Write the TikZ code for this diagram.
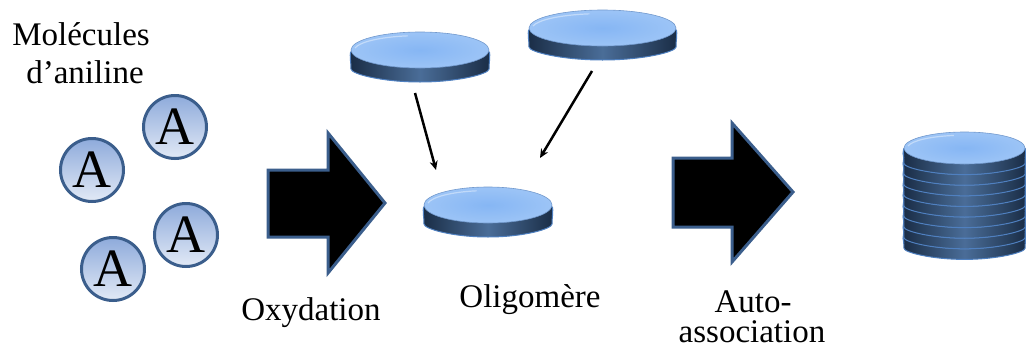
\documentclass[tikz,border=0pt]{standalone}
\usepackage{fontspec}
\setmainfont{Liberation Serif}
\usetikzlibrary{arrows.meta}
\definecolor{rimblue}{HTML}{3B5E8C}
\definecolor{ballTop}{HTML}{8EAADB}
\definecolor{ballBot}{HTML}{E2EAF6}
\definecolor{diskTop}{HTML}{86B6F4}
\definecolor{diskTopHi}{HTML}{9CC4F6}
\definecolor{sideDark}{HTML}{1A2D46}
\definecolor{sideMid}{HTML}{4A6D98}
\definecolor{diskEdge}{HTML}{4F80C0}
\tikzset{
  lbl/.style={font=\fontsize{33}{38}\selectfont, inner sep=0pt, anchor=base},
  ball/.style={circle, minimum size=63pt, inner sep=0pt, draw=rimblue, line width=3pt,
    top color=ballTop, bottom color=ballBot, font=\fontsize{54}{54}\selectfont},
  bigarrow/.style={fill=black, draw=rimblue, line width=3pt, line join=miter},
  thinarrow/.style={line width=2.5pt, -{Stealth[length=9pt,width=8pt]}},
  side/.style={left color=sideDark, right color=sideDark, middle color=sideMid, draw=diskEdge, line width=1pt, rounded corners=5pt},
  topface/.style={inner color=diskTop, outer color=diskTopHi, draw=diskEdge!80!white, line width=0.6pt},
}
% \diskat{cx}{top centre y}{rx}{ry}{thickness}
\newcommand{\diskat}[5]{%
  \path[side] (#1-#3+1,#2-2) -- (#1-#3,#2+#5*0.5) -- (#1-#3+1,#2+#5) arc[start angle=180, end angle=0, x radius=#3-1, y radius=#4] -- (#1+#3,#2+#5*0.5) -- (#1+#3-1,#2-2) -- cycle;
  \path[topface] (#1,#2) ellipse[x radius=#3-1, y radius=#4];
  \draw[white, opacity=0.4, line width=1.2pt] (#1-#3+5,#2-2) arc[start angle=190, end angle=260, x radius=#3-5, y radius=#4-3];
}
\begin{document}
\begin{tikzpicture}[x=1pt, y=-1pt]
\useasboundingbox (0,0) rectangle (1026,351);
% labels
\node[lbl] (mol) at (81,45) {Molécules};
\node[lbl] (ani) at (85,83) {d’aniline};
\node[lbl] (oxy) at (311,320) {Oxydation};
\node[lbl] (oli) at (530,307) {Oligomère};
\node[lbl] (aut) at (753,312) {Auto-};
\node[lbl] (ass) at (752,342) {association};
% aniline molecules
\node[ball] (b1) at (175,127) {A};
\node[ball] (b2) at (92,170) {A};
\node[ball] (b3) at (186,235) {A};
\node[ball] (b4) at (113,269) {A};
% big arrows
\draw[bigarrow] (268,170) -- (328,170) -- (328,133) -- (385,203) -- (328,273) -- (328,237) -- (268,237) -- cycle;
\draw[bigarrow] (673,158) -- (732,158) -- (732,123) -- (793,192) -- (732,262) -- (732,227) -- (673,227) -- cycle;
% disks
\diskat{420}{50}{70}{18}{14}
\diskat{602.5}{28}{74.5}{18}{14}
\diskat{488}{205}{65}{18}{14}
% stack
\foreach \i in {8,7,...,0}{
  \diskat{964.5}{148+10.6*\i}{61.5}{16}{10.6}
}
% thin arrows
\coordinate (s1) at (415,93);
\coordinate (e1) at (436,170);
\coordinate (s2) at (592,71);
\coordinate (e2) at (540,158);
\draw[thinarrow] (s1) -- (e1);
\draw[thinarrow] (s2) -- (e2);
\end{tikzpicture}
\end{document}
